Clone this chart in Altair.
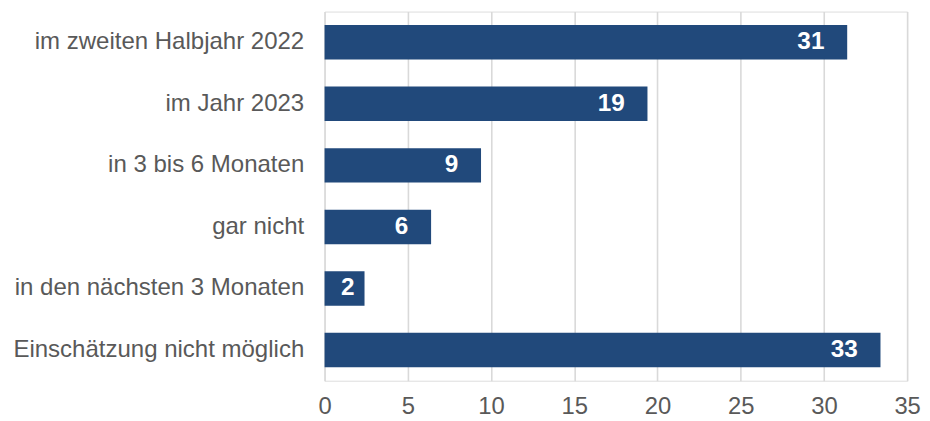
import altair as alt
import pandas as pd

categories = [
    "im zweiten Halbjahr 2022",
    "im Jahr 2023",
    "in 3 bis 6 Monaten",
    "gar nicht",
    "in den nächsten 3 Monaten",
    "Einschätzung nicht möglich",
]
values = [31.4, 19.4, 9.4, 6.4, 2.4, 33.4]
labels = ["31", "19", "9", "6", "2", "33"]
x_ticks = [0, 5, 10, 15, 20, 25, 30, 35]

df = pd.DataFrame({"cat": categories, "val": values, "lab": labels})

FONT = "Liberation Sans"
BAR = "#21497B"
GRAY = "#595959"

x_scale = alt.Scale(domain=[0, 35], nice=False, zero=True)
y_scale = alt.Scale(domain=categories, paddingInner=0.44, paddingOuter=0.22)

base = alt.Chart(df)

bars = base.mark_bar(color=BAR, cornerRadius=0).encode(
    x=alt.X(
        "val:Q",
        scale=x_scale,
        axis=alt.Axis(
            values=x_ticks,
            title=None,
            grid=True,
            gridColor="#D9D9D9",
            gridWidth=1.6,
            domain=False,
            ticks=False,
            labelFont=FONT,
            labelFontSize=24,
            labelColor=GRAY,
            labelPadding=14,
            labelFlush=False,
        ),
    ),
    y=alt.Y(
        "cat:N",
        scale=y_scale,
        sort=categories,
        axis=alt.Axis(
            title=None,
            domain=False,
            ticks=False,
            grid=False,
            labelFont=FONT,
            labelFontSize=24.2,
            labelColor=GRAY,
            labelPadding=21,
            labelLimit=400,
        ),
    ),
)

text = (
    base.transform_calculate(pos="max(datum.val - 1.37, datum.val * 0.75)")
    .mark_text(
        align="right",
        baseline="middle",
        font=FONT,
        fontSize=24.5,
        fontWeight="bold",
        color="white",
    )
    .encode(
        x=alt.X("pos:Q", scale=x_scale),
        y=alt.Y("cat:N", scale=y_scale, sort=categories),
        text="lab:N",
    )
)

chart = (
    alt.layer(bars, text)
    .properties(
        width=587,
        height=372,
        autosize=alt.AutoSizeParams(type="none"),
        padding={"left": 319, "top": 2, "right": 15, "bottom": 40},
    )
    .configure_view(stroke=None)
    .configure(background="white")
)

chart.save("out.html", embed_options={"renderer": "svg", "actions": False})
